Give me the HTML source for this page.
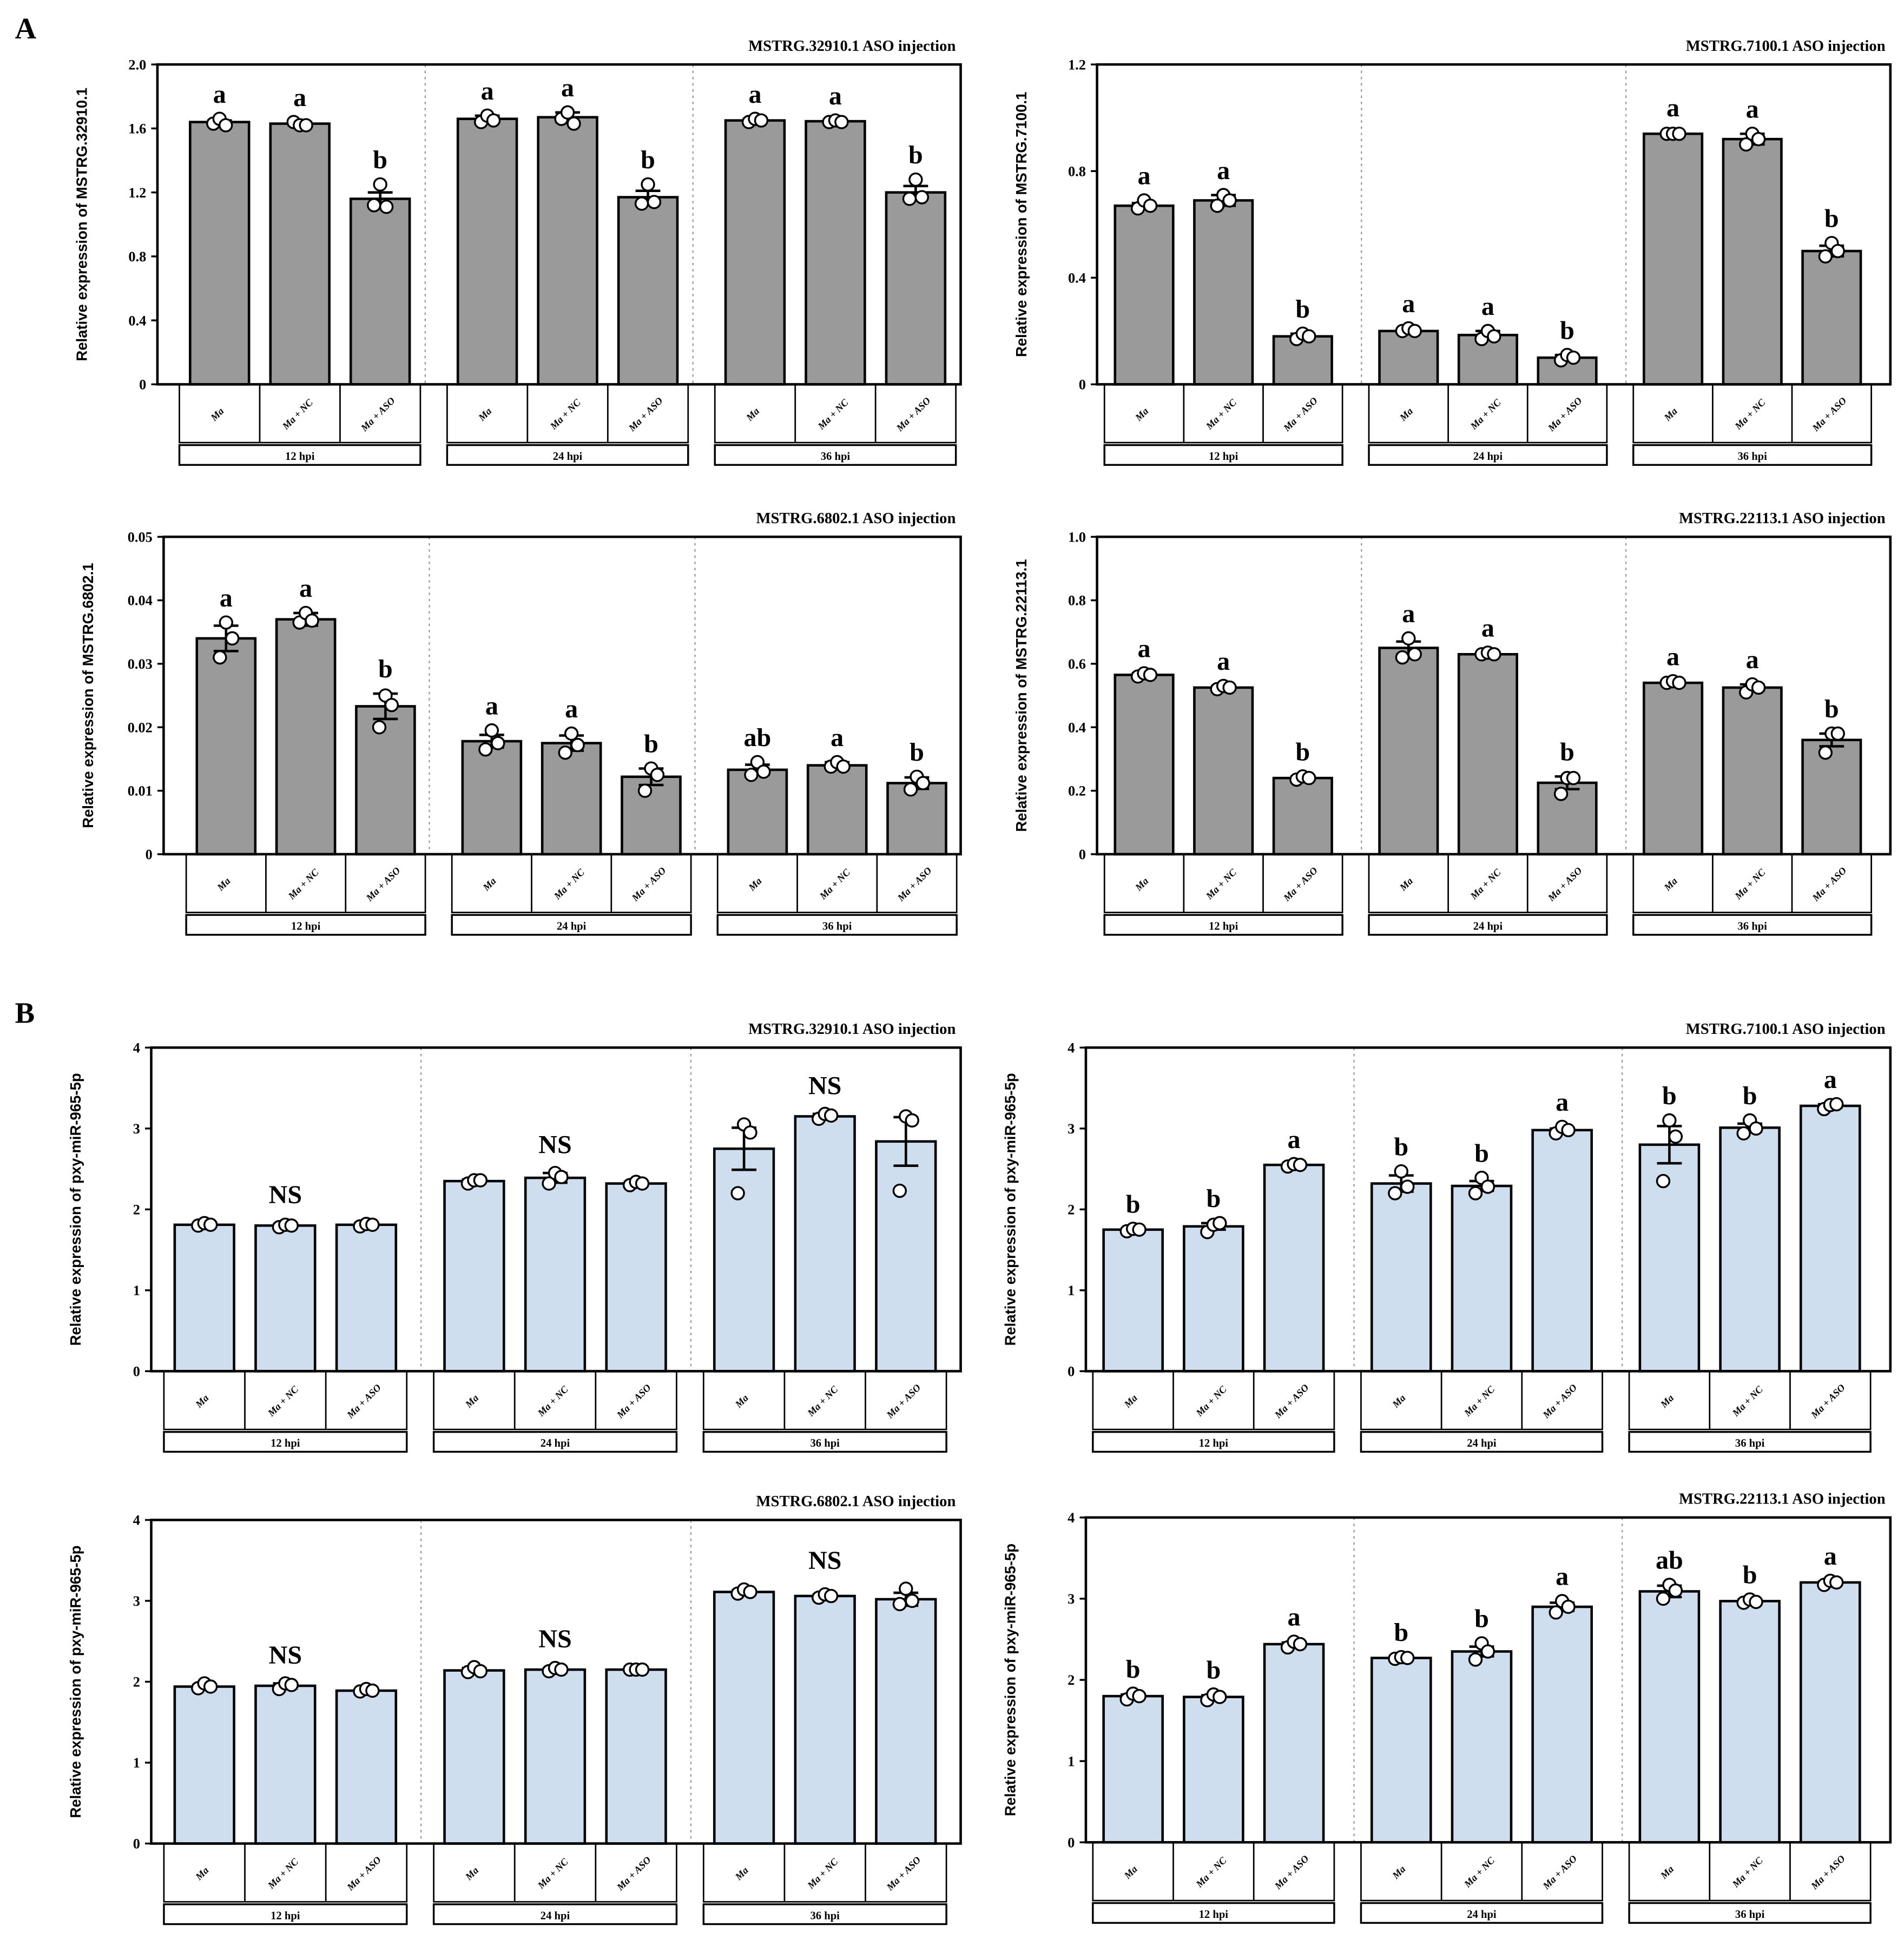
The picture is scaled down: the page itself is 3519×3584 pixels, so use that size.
<!DOCTYPE html>
<html><head><meta charset="utf-8">
<style>
html,body{margin:0;padding:0;background:#fff;}
svg{display:block;}
text{font-family:"Liberation Serif",serif;}
</style></head>
<body>
<svg id="fig" width="3519" height="3584" viewBox="0 0 1536 1564" preserveAspectRatio="none" xmlns="http://www.w3.org/2000/svg">
<text x="12" y="31" font-size="24" font-weight="bold">A</text>
<text x="12" y="825" font-size="24" font-weight="bold">B</text>
</svg>
<script>
const categories = ["Ma","Ma + NC","Ma + ASO"];
const timepoints = ["12 hpi","24 hpi","36 hpi"];

const meansA1 = [1.64,1.63,1.16, 1.66,1.67,1.17, 1.65,1.645,1.20];
const errA1 = [0.01,0.01,0.04, 0.02,0.03,0.04, 0.01,0.005,0.04];
const ptsA1 = [[1.63,1.66,1.62],[1.64,1.62,1.62],[1.12,1.25,1.11],[1.64,1.68,1.65],[1.66,1.70,1.63],[1.13,1.25,1.14],[1.64,1.66,1.65],[1.64,1.65,1.64],[1.16,1.28,1.17]];
const lettersA1 = ["a","a","b","a","a","b","a","a","b"];

const meansA2 = [0.67,0.69,0.18, 0.20,0.185,0.10, 0.94,0.92,0.50];
const errA2 = [0.01,0.02,0.01, 0.005,0.015,0.01, 0.005,0.02,0.02];
const ptsA2 = [[0.66,0.69,0.67],[0.67,0.71,0.69],[0.17,0.19,0.18],[0.20,0.21,0.20],[0.17,0.20,0.18],[0.09,0.11,0.10],[0.94,0.94,0.94],[0.90,0.94,0.92],[0.48,0.53,0.50]];
const lettersA2 = ["a","a","b","a","a","b","a","a","b"];

const meansA3 = [0.034,0.037,0.0233, 0.0178,0.0175,0.0122, 0.0133,0.014,0.0112];
const errA3 = [0.002,0.001,0.002, 0.001,0.0012,0.0013, 0.0008,0.0005,0.0009];
const ptsA3 = [[0.031,0.0365,0.034],[0.0365,0.038,0.0368],[0.020,0.025,0.0235],[0.0165,0.0195,0.0175],[0.016,0.019,0.0172],[0.010,0.0135,0.0125],[0.0125,0.0145,0.013],[0.0138,0.0145,0.0138],[0.0102,0.0122,0.0112]];
const lettersA3 = ["a","a","b","a","a","b","ab","a","b"];

const meansA4 = [0.565,0.525,0.24, 0.65,0.63,0.225, 0.54,0.525,0.36];
const errA4 = [0.005,0.005,0.005, 0.02,0.005,0.02, 0.005,0.01,0.02];
const ptsA4 = [[0.56,0.57,0.565],[0.52,0.53,0.525],[0.235,0.245,0.24],[0.62,0.68,0.63],[0.63,0.635,0.63],[0.19,0.24,0.24],[0.54,0.545,0.54],[0.51,0.535,0.525],[0.32,0.38,0.38]];
const lettersA4 = ["a","a","b","a","a","b","a","a","b"];

const meansB1 = [1.81,1.80,1.81, 2.35,2.39,2.32, 2.75,3.15,2.84];
const errB1 = [0.02,0.02,0.02, 0.02,0.06,0.02, 0.26,0.03,0.30];
const ptsB1 = [[1.80,1.83,1.81],[1.78,1.81,1.80],[1.79,1.82,1.81],[2.32,2.36,2.36],[2.32,2.45,2.40],[2.30,2.34,2.32],[2.2,3.05,2.95],[3.12,3.18,3.16],[2.23,3.15,3.1]];
const lettersB1 = ["NS","NS","NS"];

const meansB2 = [1.75,1.79,2.55, 2.32,2.29,2.98, 2.80,3.01,3.28];
const errB2 = [0.01,0.04,0.01, 0.10,0.06,0.02, 0.23,0.05,0.02];
const ptsB2 = [[1.73,1.76,1.75],[1.72,1.81,1.83],[2.53,2.56,2.55],[2.2,2.47,2.28],[2.2,2.39,2.28],[2.94,3.02,2.98],[2.35,3.1,2.9],[2.94,3.1,3.0],[3.24,3.29,3.3]];
const lettersB2 = ["b","b","a","b","b","a","b","b","a"];

const meansB3 = [1.94,1.95,1.89, 2.14,2.15,2.15, 3.11,3.06,3.02];
const errB3 = [0.02,0.03,0.01, 0.03,0.02,0.005, 0.02,0.02,0.08];
const ptsB3 = [[1.92,1.98,1.94],[1.91,1.98,1.96],[1.88,1.91,1.89],[2.12,2.18,2.13],[2.13,2.17,2.15],[2.15,2.15,2.15],[3.09,3.14,3.11],[3.04,3.08,3.06],[2.96,3.15,3.0]];
const lettersB3 = ["NS","NS","NS"];

const meansB4 = [1.80,1.79,2.44, 2.27,2.35,2.90, 3.09,2.97,3.20];
const errB4 = [0.02,0.02,0.02, 0.01,0.06,0.05, 0.07,0.02,0.01];
const ptsB4 = [[1.76,1.83,1.80],[1.75,1.82,1.79],[2.40,2.47,2.44],[2.26,2.28,2.27],[2.25,2.45,2.35],[2.83,2.97,2.90],[3.0,3.17,3.1],[2.95,2.99,2.96],[3.17,3.22,3.2]];
const lettersB4 = ["b","b","a","b","b","a","ab","b","a"];

const ticksA1 = [0,0.4,0.8,1.2,1.6,2.0]; const tickLabA1 = ["0","0.4","0.8","1.2","1.6","2.0"];
const ticksA2 = [0,0.4,0.8,1.2]; const tickLabA2 = ["0","0.4","0.8","1.2"];
const ticksA3 = [0,0.01,0.02,0.03,0.04,0.05]; const tickLabA3 = ["0","0.01","0.02","0.03","0.04","0.05"];
const ticksA4 = [0,0.2,0.4,0.6,0.8,1.0]; const tickLabA4 = ["0","0.2","0.4","0.6","0.8","1.0"];
const ticksB = [0,1,2,3,4]; const tickLabB = ["0","1","2","3","4"];

const NS = "http://www.w3.org/2000/svg";
const svg = document.getElementById('fig');
function mk(tag, attrs, parent){const e=document.createElementNS(NS,tag);for(const k in attrs)e.setAttribute(k,attrs[k]);(parent||svg).appendChild(e);return e;}

function panel(o){
  const g = mk('g',{});
  
  
  const W=o.x1-o.x0, H=o.y1-o.y0, gw=W/3, step=gw*0.3;
  const y=v=>o.y1-(v/o.ymax)*H;
  const cx=i=>o.x0+Math.floor(i/3)*gw+gw*o.off+(i%3)*step;
  const bw=gw*0.22;
  const t=mk('text',{x:o.x1-4,y:o.y0-11,'font-size':12.5,'font-weight':'bold','text-anchor':'end'},g);
  t.textContent=o.title;
  
  
  const yl=mk('text',{x:0,y:0,'font-size':12,'font-weight':'bold','text-anchor':'middle',transform:`translate(${o.x0-57},${(o.y0+o.y1)/2}) rotate(-90)`,style:'font-family:"Liberation Sans",sans-serif'},g);
  yl.textContent=o.ylabel;
  
  
  o.ticks.forEach((tv,k)=>{
    mk('line',{x1:o.x0-5,x2:o.x0,y1:y(tv),y2:y(tv),stroke:'#000','stroke-width':1.5},g);
    const tl=mk('text',{x:o.x0-9,y:y(tv)+4,'font-size':11.5,'font-weight':'bold','text-anchor':'end'},g);
    tl.textContent=o.tickLab[k];
    
    
  });
  for(let k=1;k<3;k++) mk('line',{x1:o.x0+gw*k,x2:o.x0+gw*k,y1:o.y0,y2:o.y1,stroke:'#999','stroke-width':1,'stroke-dasharray':'2,3'},g);
  o.means.forEach((m,i)=>{
    const b=mk('rect',{x:cx(i)-bw/2,y:y(m),width:bw,height:o.y1-y(m),fill:o.color,stroke:'#000','stroke-width':2},g);
    
    
    const e=o.err[i];
    mk('line',{x1:cx(i),x2:cx(i),y1:y(m-e),y2:y(m+e),stroke:'#000','stroke-width':2},g);
    mk('line',{x1:cx(i)-10,x2:cx(i)+10,y1:y(m-e),y2:y(m-e),stroke:'#000','stroke-width':2},g);
    mk('line',{x1:cx(i)-10,x2:cx(i)+10,y1:y(m+e),y2:y(m+e),stroke:'#000','stroke-width':2},g);
    o.pts[i].forEach((p,j)=>{
      const c=mk('circle',{cx:cx(i)-5+j*5,cy:y(p),r:5,fill:'#fff',stroke:'#000','stroke-width':1.5},g);
      
      
    });
    if(o.letters.length===9){
      const top=Math.max(m+e,...o.pts[i]);
      const lt=mk('text',{x:cx(i),y:y(top)-13,'font-size':21,'font-weight':'bold','text-anchor':'middle'},g);
      lt.textContent=o.letters[i];
      
      
    }
  });
  if(o.letters.length===3){
    for(let k=0;k<3;k++){
      let top=0;
      for(let i=k*3;i<k*3+3;i++) top=Math.max(top,o.means[i]+o.err[i],...o.pts[i]);
      const lt=mk('text',{x:cx(k*3+1),y:y(top)-16,'font-size':21,'font-weight':'bold','text-anchor':'middle'},g);
      lt.textContent=o.letters[k];
      
      
    }
  }
  mk('rect',{x:o.x0,y:o.y0,width:W,height:H,fill:'none',stroke:'#000','stroke-width':2},g);
  for(let k=0;k<3;k++){
    const mid=cx(k*3+1), L=mid-1.5*step, R=mid+1.5*step;
    mk('rect',{x:L,y:o.y1,width:R-L,height:47,fill:'none',stroke:'#000','stroke-width':1.2},g);
    for(let j=0;j<3;j++){
      if(j>0) mk('line',{x1:L+j*step,x2:L+j*step,y1:o.y1,y2:o.y1+47,stroke:'#000','stroke-width':1.2},g);
      const cl=mk('text',{x:0,y:0,'font-size':8,'font-style':'italic','font-weight':'bold','text-anchor':'middle',transform:`translate(${L+(j+0.5)*step},${o.y1+26}) rotate(-45)`},g);
      cl.textContent=categories[j];
      
      
    }
    mk('rect',{x:L,y:o.y1+49,width:R-L,height:16,fill:'none',stroke:'#000','stroke-width':1.5},g);
    const tp=mk('text',{x:mid,y:o.y1+61,'font-size':9,'font-weight':'bold','text-anchor':'middle'},g);
    tp.textContent=timepoints[k];
    
    
  }
}
const GRAY='#9a9a9a', BLUE='#cfdeee';
const lblB='Relative expression of pxy-miR-965-5p';
panel({name:'panel-a-32910',x0:127,x1:775,y0:52,y1:310,off:0.232,ymax:2.0,ticks:ticksA1,tickLab:tickLabA1,means:meansA1,err:errA1,pts:ptsA1,letters:lettersA1,color:GRAY,title:'MSTRG.32910.1 ASO injection',ylabel:'Relative expression of MSTRG.32910.1'});
panel({name:'panel-a-7100',x0:885,x1:1525,y0:52,y1:310,off:0.178,ymax:1.2,ticks:ticksA2,tickLab:tickLabA2,means:meansA2,err:errA2,pts:ptsA2,letters:lettersA2,color:GRAY,title:'MSTRG.7100.1 ASO injection',ylabel:'Relative expression of MSTRG.7100.1'});
panel({name:'panel-a-6802',x0:132,x1:775,y0:433,y1:689,off:0.235,ymax:0.05,ticks:ticksA3,tickLab:tickLabA3,means:meansA3,err:errA3,pts:ptsA3,letters:lettersA3,color:GRAY,title:'MSTRG.6802.1 ASO injection',ylabel:'Relative expression of MSTRG.6802.1'});
panel({name:'panel-a-22113',x0:885,x1:1525,y0:433,y1:689,off:0.178,ymax:1.0,ticks:ticksA4,tickLab:tickLabA4,means:meansA4,err:errA4,pts:ptsA4,letters:lettersA4,color:GRAY,title:'MSTRG.22113.1 ASO injection',ylabel:'Relative expression of MSTRG.22113.1'});
panel({name:'panel-b-32910',x0:122,x1:775,y0:845,y1:1106,off:0.197,ymax:4,ticks:ticksB,tickLab:tickLabB,means:meansB1,err:errB1,pts:ptsB1,letters:lettersB1,color:BLUE,title:'MSTRG.32910.1 ASO injection',ylabel:lblB});
panel({name:'panel-b-7100',x0:876,x1:1525,y0:845,y1:1106,off:0.176,ymax:4,ticks:ticksB,tickLab:tickLabB,means:meansB2,err:errB2,pts:ptsB2,letters:lettersB2,color:BLUE,title:'MSTRG.7100.1 ASO injection',ylabel:lblB});
panel({name:'panel-b-6802',x0:122,x1:775,y0:1226,y1:1487,off:0.197,ymax:4,ticks:ticksB,tickLab:tickLabB,means:meansB3,err:errB3,pts:ptsB3,letters:lettersB3,color:BLUE,title:'MSTRG.6802.1 ASO injection',ylabel:lblB});
panel({name:'panel-b-22113',x0:876,x1:1525,y0:1224,y1:1486,off:0.176,ymax:4,ticks:ticksB,tickLab:tickLabB,means:meansB4,err:errB4,pts:ptsB4,letters:lettersB4,color:BLUE,title:'MSTRG.22113.1 ASO injection',ylabel:lblB});
</script>
</body></html>
